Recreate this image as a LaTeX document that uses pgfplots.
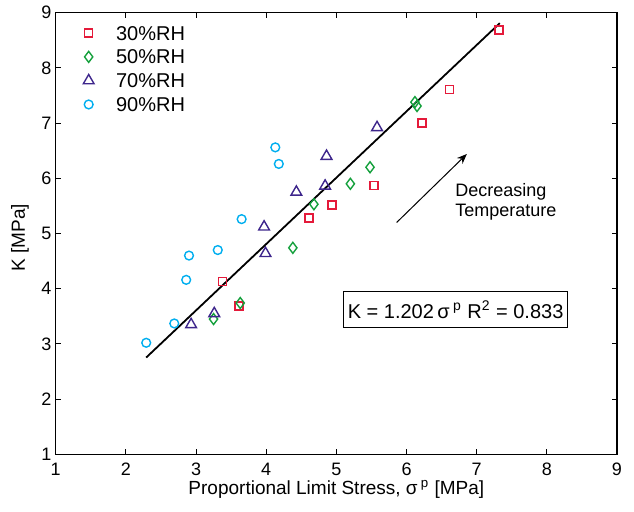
\documentclass[border=0pt]{standalone}
\usepackage{fontspec}
\setmainfont{Liberation Sans}
\usepackage{pgfplots}
\pgfplotsset{compat=1.18}
\usetikzlibrary{arrows.meta}
\definecolor{c30}{RGB}{228,26,58}
\definecolor{c50}{RGB}{20,160,60}
\definecolor{c70}{RGB}{62,38,140}
\definecolor{c90}{RGB}{0,174,239}
\begin{document}
\begin{tikzpicture}
\begin{axis}[
  name=ax,
  scale only axis,
  width=280.65pt, height=220.8pt,
  xmin=1, xmax=9, ymin=1, ymax=9,
  xtick={1,...,9}, ytick={1,...,9},
  tick align=inside,
  major tick length=2.5pt,
  tick style={line width=0.5pt, black},
  axis line style={line width=0.7pt},
  /pgf/number format/assume math mode=true,
  ticklabel style={font=\fontsize{9}{10}\selectfont, inner sep=1pt},
  xticklabel style={yshift=-3pt},
  yticklabel style={xshift=-1pt},
  label style={font=\fontsize{9.5}{11}\selectfont, inner sep=1pt},
  xlabel={Proportional Limit Stress, σ\,\textsuperscript{p} [MPa]},
  ylabel={K [MPa]},
  xlabel style={at={(axis description cs:0.5,-0.0915)}, anchor=base},
  ylabel style={at={(axis description cs:-0.0636,0.49)}, anchor=center},
  legend style={draw=none, fill=none, inner sep=0pt,
    at={(axis description cs:0.0485,0.9817)}, anchor=north west,
    font=\fontsize{10}{12}\selectfont, column sep=9pt,
    nodes={inner xsep=2pt, inner ysep=2pt, text height=7.5pt, text depth=0.4pt}},
  legend cell align=left,
]
\addplot[only marks, mark=square, mark size=2pt, c30, line width=0.8pt] coordinates {
(3.38,4.13) (3.61,3.69) (4.61,5.28) (4.94,5.52) (5.54,5.87) (6.22,7.00) (6.61,7.61) (7.32,8.69)};
\addlegendentry{30\%RH}
\addplot[only marks, mark=diamond, mark size=2.75pt, c50, line width=0.7pt] coordinates {
(3.25,3.45) (3.63,3.74) (4.38,4.74) (4.68,5.53) (5.20,5.90) (5.48,6.20) (6.12,7.38) (6.15,7.31)};
\addlegendentry{50\%RH}
\addplot[only marks, mark=triangle, mark size=3.1pt, c70, line width=0.7pt] coordinates {
(2.93,3.35) (3.26,3.55) (3.97,5.12) (3.99,4.64) (4.43,5.75) (4.84,5.86) (4.86,6.40) (5.58,6.92)};
\addlegendentry{70\%RH}
\addplot[only marks, mark=o, mark size=2.2pt, c90, line width=0.7pt] coordinates {
(2.29,3.02) (2.69,3.37) (2.86,4.16) (2.90,4.60) (3.31,4.70) (3.65,5.26) (4.13,6.56) (4.18,6.26)};
\addlegendentry{90\%RH}
\addplot[black, line width=0.9pt, forget plot] coordinates {(2.29,2.753) (7.33,8.811)};
\draw[-{Stealth[length=5pt,width=4pt]}, line width=0.5pt] (axis cs:5.86,5.20) -- (axis cs:6.86,6.44);
\node[anchor=west, align=left, font=\fontsize{9}{10}\selectfont, inner sep=0pt] at (axis cs:6.69,5.58) {Decreasing\\Temperature};
\node[draw, line width=0.6pt, fill=white, inner xsep=2pt, minimum height=17.8pt, font=\fontsize{10}{12}\selectfont] at (axis cs:6.70,3.62) {K = 1.202\,σ\,\textsuperscript{p} R\textsuperscript{2} = 0.833};
\end{axis}
\path (ax.south west) ++(-27.85pt,-28.85pt) coordinate (bl);
\path (ax.north east) ++(8.5pt,6.35pt) coordinate (tr);
\pgfresetboundingbox
\path[use as bounding box] (bl) rectangle (tr);
\end{tikzpicture}
\end{document}
